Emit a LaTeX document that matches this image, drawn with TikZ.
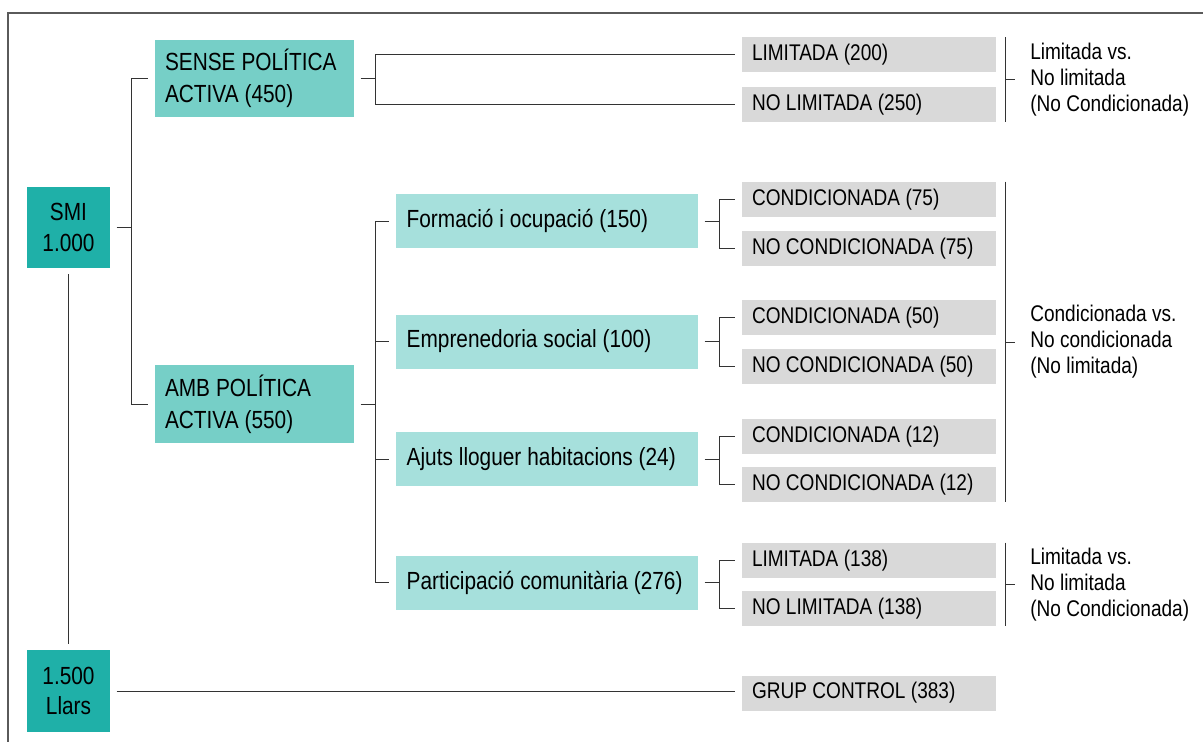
\documentclass[tikz,border=0pt]{standalone}
\usepackage{fontspec}
\setmainfont{Liberation Sans}[FakeStretch=0.84]
\usetikzlibrary{positioning}
\definecolor{smiteal}{RGB}{31,176,168}
\definecolor{polteal}{RGB}{118,207,199}
\definecolor{subteal}{RGB}{166,224,220}
\definecolor{armgray}{RGB}{217,217,217}
\definecolor{linegray}{RGB}{51,51,51}
\definecolor{framegray}{RGB}{90,90,90}

\begin{document}
\begin{tikzpicture}[x=0.75pt, y=-0.75pt,
                every node/.style={execute at begin node={\spaceskip=0.24em\relax}},
                total/.style={fill=smiteal, minimum width=62.25pt, minimum height=61pt, inner sep=0pt, outer xsep=5pt, align=center, font=\fontsize{18.6}{23}\selectfont},
                pol/.style={fill=polteal, text width=134.25pt, inner xsep=7.5pt, inner ysep=0pt, minimum height=58pt, outer xsep=5pt, align=left, font=\fontsize{18.6}{24}\selectfont},
                sub/.style={fill=subteal, text width=210.5pt, inner xsep=8pt, inner ysep=0pt, minimum height=40.5pt, outer xsep=5pt, align=left, font=\fontsize{18.6}{22}\selectfont},
                arm/.style={fill=armgray, text width=175.5pt, inner xsep=7.5pt, inner ysep=0pt, minimum height=26.25pt, outer xsep=5pt, align=left, font=\fontsize{17}{20}\selectfont},
                note/.style={inner sep=0pt, align=left, font=\fontsize{17}{19.5}\selectfont},
                link/.style={draw=linegray, line width=0.75pt}]

                \useasboundingbox (0,0) rectangle (1203,742);
                \draw[framegray, line width=1pt] (8,742) -- (8,13) -- (1203,13);

                % totals
                \node[total] (smi) at (68.5,227.5) {SMI\\1.000};
                \node[total] (llars) at (68.5,691) {1.500\\Llars};

                % policy groups
                \node[pol] (sense) at (254.5,78.5) {SENSE POLÍTICA\\ACTIVA (450)};
                \node[pol] (amb) at (254.5,404) {AMB POLÍTICA\\ACTIVA (550)};

                \node[sub] (form) at (547,221) {Formació i ocupació (150)};
                \node[sub] (empr) at (547,341.5) {Emprenedoria social (100)};
                \node[sub] (ajuts) at (547,459) {Ajuts lloguer habitacions (24)};
                \node[sub] (part) at (547,582.5) {Participació comunitària (276)};

                % arms
                \node[arm] (lim200) at (869,55) {LIMITADA (200)};
                \node[arm] (nolim250) at (869,104.5) {NO LIMITADA (250)};
                \node[arm] (cond75) at (869,199.5) {CONDICIONADA (75)};
                \node[arm] (nocond75) at (869,248.5) {NO CONDICIONADA (75)};
                \node[arm] (cond50) at (869,317.5) {CONDICIONADA (50)};
                \node[arm] (nocond50) at (869,366.5) {NO CONDICIONADA (50)};
                \node[arm] (cond12) at (869,436.5) {CONDICIONADA (12)};
                \node[arm] (nocond12) at (869,484.5) {NO CONDICIONADA (12)};
                \node[arm] (lim138) at (869,560.5) {LIMITADA (138)};
                \node[arm] (nolim138) at (869,608.5) {NO LIMITADA (138)};
                \node[arm] (ctrl) at (869,693) {GRUP CONTROL (383)};

                % tree lines
                \draw[link] ([yshift=-4.5pt]smi.south) -- ([yshift=4.5pt]llars.north);
                \draw[link] (llars.east) -- (llars.east -| ctrl.west);

                \draw[link] (smi.east) -- ++(15,0) coordinate (t0);
                \draw[link] (t0) |- (sense.west);
                \draw[link] (t0) |- (amb.west);

                \draw[link] (sense.east) -- ++(15,0) coordinate (t1);
                \draw[link] (t1) |- (lim200.west);
                \draw[link] (t1) |- (nolim250.west);

                \draw[link] (amb.east) -- ++(15,0) coordinate (t2);
                \draw[link] (t2) |- (form.west);
                \draw[link] (t2) |- (empr.west);
                \draw[link] (t2) |- (ajuts.west);
                \draw[link] (t2) |- (part.west);

                \foreach \s/\a/\b in {form/cond75/nocond75, empr/cond50/nocond50, ajuts/cond12/nocond12, part/lim138/nolim138} {
                    \draw[link] (\s.east) -- ++(15,0) coordinate (tt);
                    \draw[link] (tt) |- (\a.west);
                    \draw[link] (tt) |- (\b.west);
                }

                % comparisons
                \draw[link] ([xshift=2pt]lim200.north east) -- coordinate[midway] (c1) ([xshift=2pt]nolim250.south east);
                \draw[link] (c1) -- ++(10,0) coordinate (c1e);
                \node[note, anchor=west, right=11pt of c1e] (n1) {Limitada vs.\\No limitada\\(No Condicionada)};

                \draw[link] ([xshift=2pt]cond75.north east) -- coordinate[midway] (c2) ([xshift=2pt]nocond12.south east);
                \draw[link] (c2) -- ++(10,0) coordinate (c2e);
                \node[note, anchor=west, right=11pt of c2e] (n2) {Condicionada vs.\\No condicionada\\(No limitada)};

                \draw[link] ([xshift=2pt]lim138.north east) -- coordinate[midway] (c3) ([xshift=2pt]nolim138.south east);
                \draw[link] (c3) -- ++(10,0) coordinate (c3e);
                \node[note, anchor=west, right=11pt of c3e] (n3) {Limitada vs.\\No limitada\\(No Condicionada)};
            \end{tikzpicture}
\end{document}
